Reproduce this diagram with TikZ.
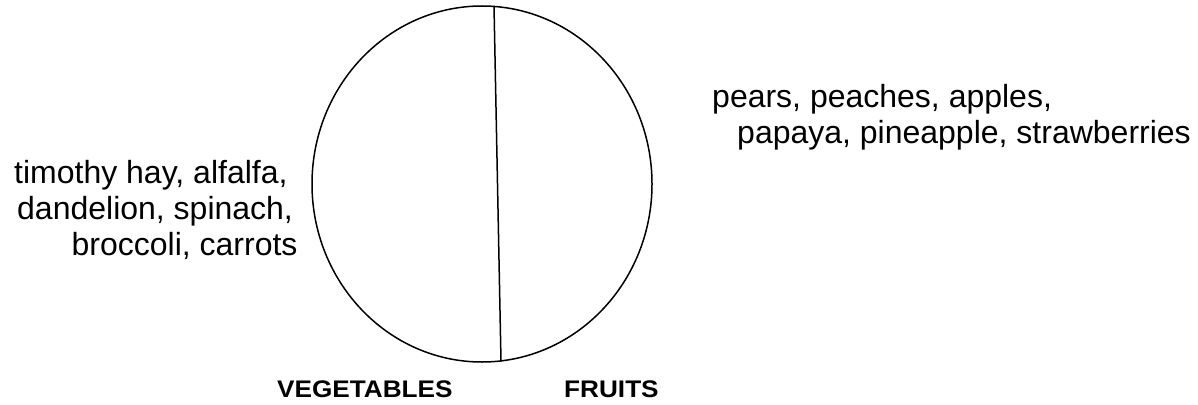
\documentclass[tikz,border=0pt]{standalone}
\usepackage{fontspec}
\setmainfont{Liberation Sans}
\usetikzlibrary{shapes.geometric}
\begin{document}
\begin{tikzpicture}[x=1pt,y=-1pt,
  lbl/.style={inner sep=0pt,anchor=base west,font=\fontsize{32}{37}\selectfont},
  cat/.style={inner sep=0pt,anchor=base west,xscale=1.09,font=\fontsize{24}{28}\selectfont\bfseries},
  outline/.style={draw=black,line width=1.5pt}]
\useasboundingbox (0,0) rectangle (1198,404);
\node[outline,ellipse,minimum width=340pt,minimum height=356pt,inner sep=0pt] (pie) at (482,184) {};
\coordinate (top) at (494,6);
\coordinate (bot) at (501,361.5);
\draw[outline] (top) -- (bot);
\node[lbl] (v1) at (14,183) {timothy hay, alfalfa,};
\node[lbl] (v2) at (17,219) {dandelion, spinach,};
\node[lbl] (v3) at (71.5,255) {broccoli, carrots};
\node[lbl] (f1) at (712,107) {pears, peaches, apples,};
\node[lbl] (f2) at (737,143) {papaya, pineapple, strawberries};
\node[cat] (veg) at (277,397) {VEGETABLES};
\node[cat] (fru) at (564,397) {FRUITS};
\end{tikzpicture}
\end{document}
